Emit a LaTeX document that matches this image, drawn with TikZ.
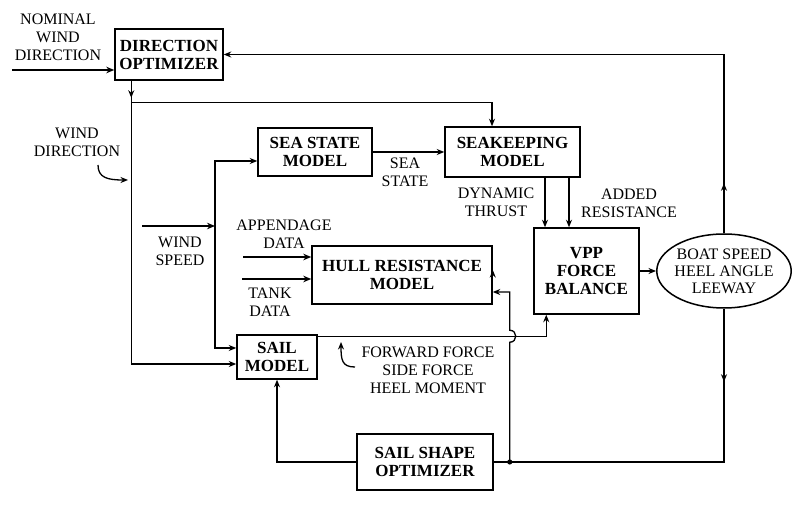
\documentclass[tikz,border=0pt]{standalone}
\usepackage{fontspec}
\setmainfont{Liberation Serif}
\usetikzlibrary{arrows.meta,shapes.geometric,decorations.markings,calc}
\begin{document}
\begin{tikzpicture}[x=1pt,y=-1pt,
  box/.style={draw,line width=1.5pt,font=\bfseries\fontsize{17}{18}\selectfont,align=center,inner sep=0pt},
  lbl/.style={font=\fontsize{16}{18}\selectfont,align=center,inner sep=0pt},
  conn/.style={line width=1.3pt},
  arr/.style={conn,-{Stealth[length=7.5pt,width=6pt]}},
  inarr/.style={line width=2.2pt,-{Stealth[length=8pt,width=6.5pt]}},
  midarr/.style={postaction={decorate},decoration={markings,mark=at position #1 with {\arrow{Stealth[length=7.5pt,width=6pt]}}}}
]
\useasboundingbox[fill=white] (0,0) rectangle (807,505);

% boxes
\node[box,minimum width=108pt,minimum height=51pt] (DO) at (169,54.5) {DIRECTION\\OPTIMIZER};
\node[box,minimum width=114pt,minimum height=48pt] (SS) at (315,152) {SEA STATE\\MODEL};
\node[box,minimum width=135pt,minimum height=50pt] (SK) at (512.5,152) {SEAKEEPING\\MODEL};
\node[box,minimum width=105pt,minimum height=86pt] (VPP) at (586.5,271) {VPP\\FORCE\\BALANCE};
\node[draw,line width=1.5pt,ellipse,inner sep=-2pt,minimum width=134pt,minimum height=74pt,
      font=\fontsize{16}{17}\selectfont,align=center] (ell) at (724,271) {BOAT SPEED\\HEEL ANGLE\\LEEWAY};
\node[box,minimum width=180pt,minimum height=58pt] (hull) at (402,275) {HULL RESISTANCE\\MODEL};
\node[box,minimum width=80pt,minimum height=44pt] (sail) at (277,357) {SAIL\\MODEL};
\node[box,minimum width=136pt,minimum height=56pt] (SSO) at (425,462) {SAIL SHAPE\\OPTIMIZER};

% labels
\node[lbl] (lnom) at (58,37) {NOMINAL\\WIND\\DIRECTION};
\node[lbl] (lwd) at (77,142.5) {WIND\\DIRECTION};
\node[lbl] (lss) at (405,172.5) {SEA\\STATE};
\node[lbl] (ldt) at (496,202.5) {DYNAMIC\\THRUST};
\node[lbl] (lar) at (629,203) {ADDED\\RESISTANCE};
\node[lbl] (lap) at (284,234) {APPENDAGE\\DATA};
\node[lbl] (ltk) at (270,302.5) {TANK\\DATA};
\node[lbl] (lws) at (180,251) {WIND\\SPEED};
\node[lbl] (lff) at (428,370) {FORWARD FORCE\\SIDE FORCE\\HEEL MOMENT};

% coordinates
\coordinate (nw) at (12,70);
\coordinate (dos) at ($(DO.south west)+(17,0)$);
\coordinate (j1) at ($(dos)+(0,22)$);
\coordinate (skin) at ($(SK.north)+(-20.5,0)$);
\coordinate (wsa) at (142,226);
\coordinate (wsj) at (215,226);
\coordinate (ap) at (243,257);
\coordinate (tk) at (242,279);
\coordinate (sk1) at ($(SK.south)+(32.5,0)$);
\coordinate (sk2) at ($(SK.south)+(56.5,0)$);
\coordinate (so) at ($(sail.north east)+(0,2)$);
\coordinate (vppb) at ($(VPP.south west)+(13,0)$);
\coordinate (dot) at ($(SSO.east)+(16,0)$);
\coordinate (cross) at (dot |- so);
\coordinate (hullfb) at ($(hull.east)+(0,17)$);
\coordinate (p1s) at (98,165);
\coordinate (p1e) at (128,180);
\coordinate (p2s) at (355,367);
\coordinate (p2e) at (341,342);

% inputs
\draw[inarr] (nw) -- (nw -| DO.west);
\draw[inarr] (wsa) -- (wsj);
\draw[inarr] (ap) -- (ap -| hull.west);
\draw[inarr] (tk) -- (tk -| hull.west);

% wind direction distribution
\draw[conn,midarr=17pt] (dos) -- (j1);
\draw[arr] (j1) -| (skin);
\draw[arr] (j1) |- ($(sail.west)+(0,7)$);

% wind speed distribution
\draw[arr] (wsj) |- ($(SS.west)+(0,9)$);
\draw[arr] (wsj) |- ($(sail.west)+(0,-9)$);

% model connections
\draw[arr] (SS.east) -- (SS.east -| SK.west);
\draw[arr] (sk1) -- (sk1 |- VPP.north);
\draw[arr] (sk2) -- (sk2 |- VPP.north);
\draw[arr] ($(hull.east)+(0,-5)$) -- ($(hull.east)+(0,-5)$ -| VPP.west);
\draw[arr] (VPP.east) -- (ell.west);
\draw[arr] (so) -| (vppb);

% feedback loops
\draw[arr,midarr=50pt] (ell.north) |- (DO.east);
\draw[conn,midarr=73pt] (ell.south) |- (SSO.east);
\fill (dot) circle (2.6pt);
\draw[arr] (dot) -- ($(cross)+(0,6)$) .. controls ($(cross)+(8,6)$) and ($(cross)+(8,-6)$) .. ($(cross)+(0,-6)$) |- (hullfb);
\draw[arr] (SSO.west) -| (sail.south);

% pointers
\draw[arr] (p1s) .. controls (98,178) and (108,180) .. (p1e);
\draw[arr] (p2s) .. controls (342,367) and (341,360) .. (p2e);
\end{tikzpicture}
\end{document}
